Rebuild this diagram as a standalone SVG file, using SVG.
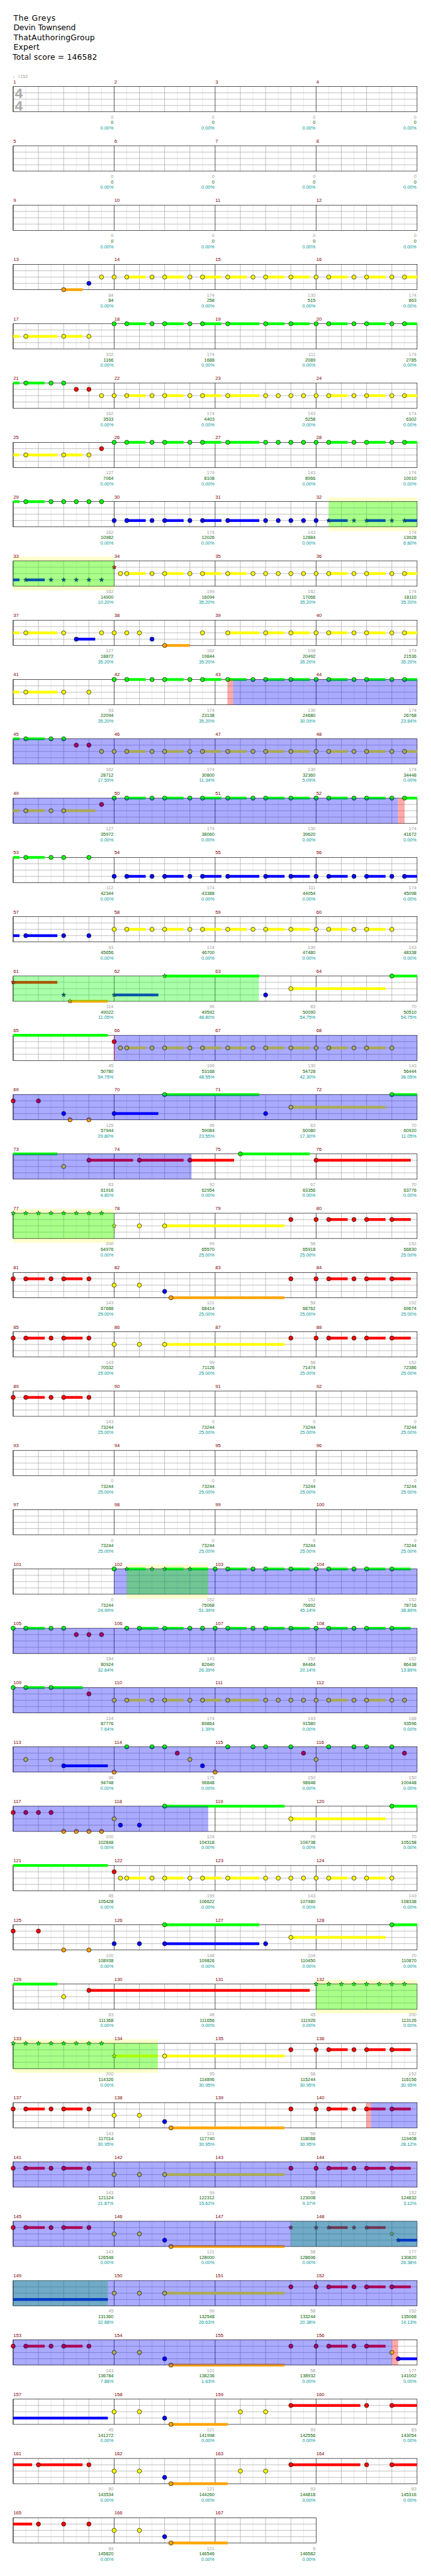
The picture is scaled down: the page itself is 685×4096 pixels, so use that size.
<svg xmlns="http://www.w3.org/2000/svg" xmlns:xlink="http://www.w3.org/1999/xlink" width="685" height="4096" viewBox="0 0 685 4096">
<style>
.G{fill:#00ff00}.R{fill:#ff0000}.Y{fill:#ffff00}.B{fill:#0000ff}.O{fill:#ffa500}
.n circle{stroke:#000;stroke-width:1}
.n use{stroke:#000;stroke-width:.8}
.ob{fill:#0000ff;fill-opacity:.333}.og{fill:#00ff00;fill-opacity:.333}.or{fill:#ff0000;fill-opacity:.333}.yb{fill:#ffffcc}
.t{font-family:"DejaVu Sans",Verdana,sans-serif;font-size:18.5px;fill:#000}
.mn text{font-family:"Liberation Sans",Arial,sans-serif;font-size:11.5px;fill:#800000}
.sc text{font-family:"Liberation Sans",Arial,sans-serif;font-size:11px;text-anchor:end}
.s1{fill:#a0a0a0}.s2{fill:#006400}.s3{fill:#009999}
.lt{stroke:#dcdcdc;stroke-width:1;fill:none}.md{stroke:#a0a0a0;stroke-width:1;fill:none}.bk{stroke:#000;stroke-width:1;fill:none}
</style>
<defs>
<polygon id="st" points="0,-5.5 1.34,-1.85 5.23,-1.7 2.17,0.71 3.23,4.45 0,2.28 -3.23,4.45 -2.17,0.71 -5.23,-1.7 -1.34,-1.85"/>
<g id="m1"><path class="lt" d="M30 0V60M90 0V60M150 0V60M210 0V60"/><path class="md" d="M0 15H240M0 30H240M0 45H240M60 0V60M120 0V60M180 0V60"/><path class="bk" d="M0 0V60"/></g>
<g id="g4"><use href="#m1"/><use href="#m1" x="240"/><use href="#m1" x="480"/><use href="#m1" x="720"/><rect class="bk" width="960" height="60"/></g>
<g id="g3"><use href="#m1"/><use href="#m1" x="240"/><use href="#m1" x="480"/><rect class="bk" width="720" height="60"/></g>
</defs>
<rect width="685" height="4096" fill="#fff"/>
<g transform="scale(0.6687)">
<g id="header">
<text class="t" x="32" y="49.5" textLength="100">The Greys</text>
<text class="t" x="32" y="72" textLength="148">Devin Townsend</text>
<text class="t" x="32.3" y="95" textLength="193">ThatAuthoringGroup</text>
<text class="t" x="32" y="118.5" textLength="62">Expert</text>
<text class="t" x="30" y="141.5" textLength="201">Total score = 146582</text>
<text x="30.5" y="186" font-family="Liberation Sans, DejaVu Sans, sans-serif" font-size="11" fill="#a0a0a0">♩=152</text>
</g>

<g id="row1" transform="translate(31.3 205.8)"><use href="#g4"/>
<text x="4" y="27.5" font-family="Liberation Sans, Arial, sans-serif" font-weight="bold" font-size="34" fill="#aaaaaa">4</text>
<text x="4" y="57.5" font-family="Liberation Sans, Arial, sans-serif" font-weight="bold" font-size="34" fill="#aaaaaa">4</text>
<g class="mn"><text x="0.5" y="-7.5">1</text><text x="240.5" y="-7.5">2</text><text x="480.5" y="-7.5">3</text><text x="720.5" y="-7.5">4</text></g>
<g class="sc"><text x="238.5" y="76.5"><tspan class="s1">0</tspan><tspan x="238.5" dy="13" class="s2">0</tspan><tspan x="238.5" dy="13" class="s3">0.00%</tspan></text><text x="478.5" y="76.5"><tspan class="s1">0</tspan><tspan x="478.5" dy="13" class="s2">0</tspan><tspan x="478.5" dy="13" class="s3">0.00%</tspan></text><text x="718.5" y="76.5"><tspan class="s1">0</tspan><tspan x="718.5" dy="13" class="s2">0</tspan><tspan x="718.5" dy="13" class="s3">0.00%</tspan></text><text x="958.5" y="76.5"><tspan class="s1">0</tspan><tspan x="958.5" dy="13" class="s2">0</tspan><tspan x="958.5" dy="13" class="s3">0.00%</tspan></text></g>
</g>

<g id="row2" transform="translate(31.3 346.8)"><use href="#g4"/>
<g class="mn"><text x="0.5" y="-7.5">5</text><text x="240.5" y="-7.5">6</text><text x="480.5" y="-7.5">7</text><text x="720.5" y="-7.5">8</text></g>
<g class="sc"><text x="238.5" y="76.5"><tspan class="s1">0</tspan><tspan x="238.5" dy="13" class="s2">0</tspan><tspan x="238.5" dy="13" class="s3">0.00%</tspan></text><text x="478.5" y="76.5"><tspan class="s1">0</tspan><tspan x="478.5" dy="13" class="s2">0</tspan><tspan x="478.5" dy="13" class="s3">0.00%</tspan></text><text x="718.5" y="76.5"><tspan class="s1">0</tspan><tspan x="718.5" dy="13" class="s2">0</tspan><tspan x="718.5" dy="13" class="s3">0.00%</tspan></text><text x="958.5" y="76.5"><tspan class="s1">0</tspan><tspan x="958.5" dy="13" class="s2">0</tspan><tspan x="958.5" dy="13" class="s3">0.00%</tspan></text></g>
</g>

<g id="row3" transform="translate(31.3 487.8)"><use href="#g4"/>
<g class="mn"><text x="0.5" y="-7.5">9</text><text x="240.5" y="-7.5">10</text><text x="480.5" y="-7.5">11</text><text x="720.5" y="-7.5">12</text></g>
<g class="sc"><text x="238.5" y="76.5"><tspan class="s1">0</tspan><tspan x="238.5" dy="13" class="s2">0</tspan><tspan x="238.5" dy="13" class="s3">0.00%</tspan></text><text x="478.5" y="76.5"><tspan class="s1">0</tspan><tspan x="478.5" dy="13" class="s2">0</tspan><tspan x="478.5" dy="13" class="s3">0.00%</tspan></text><text x="718.5" y="76.5"><tspan class="s1">0</tspan><tspan x="718.5" dy="13" class="s2">0</tspan><tspan x="718.5" dy="13" class="s3">0.00%</tspan></text><text x="958.5" y="76.5"><tspan class="s1">0</tspan><tspan x="958.5" dy="13" class="s2">0</tspan><tspan x="958.5" dy="13" class="s3">0.00%</tspan></text></g>
</g>

<g id="row4" transform="translate(31.3 628.8)"><use href="#g4"/>
<g class="O"><rect x="120" y="56.75" width="45" height="6.5"/></g>
<g class="Y"><rect x="270" y="26.75" width="45" height="6.5"/><rect x="360" y="26.75" width="45" height="6.5"/><rect x="450" y="26.75" width="45" height="6.5"/><rect x="510" y="26.75" width="45" height="6.5"/><rect x="600" y="26.75" width="45" height="6.5"/><rect x="660" y="26.75" width="45" height="6.5"/><rect x="750" y="26.75" width="45" height="6.5"/><rect x="840" y="26.75" width="45" height="6.5"/><rect x="930" y="26.75" width="30" height="6.5"/></g>
<g class="n O"><circle cx="120" cy="60" r="5"/></g>
<g class="n B"><circle cx="180" cy="45" r="5"/></g>
<g class="n Y"><circle cx="210" cy="30" r="5"/><circle cx="240" cy="30" r="5"/><circle cx="270" cy="30" r="5"/><circle cx="330" cy="30" r="5"/><circle cx="360" cy="30" r="5"/><circle cx="420" cy="30" r="5"/><circle cx="450" cy="30" r="5"/><circle cx="510" cy="30" r="5"/><circle cx="570" cy="30" r="5"/><circle cx="600" cy="30" r="5"/><circle cx="660" cy="30" r="5"/><circle cx="720" cy="30" r="5"/><circle cx="750" cy="30" r="5"/><circle cx="810" cy="30" r="5"/><circle cx="840" cy="30" r="5"/><circle cx="900" cy="30" r="5"/><circle cx="930" cy="30" r="5"/></g>
<g class="mn"><text x="0.5" y="-7.5">13</text><text x="240.5" y="-7.5">14</text><text x="480.5" y="-7.5">15</text><text x="720.5" y="-7.5">16</text></g>
<g class="sc"><text x="238.5" y="76.5"><tspan class="s1">84</tspan><tspan x="238.5" dy="13" class="s2">84</tspan><tspan x="238.5" dy="13" class="s3">0.00%</tspan></text><text x="478.5" y="76.5"><tspan class="s1">174</tspan><tspan x="478.5" dy="13" class="s2">258</tspan><tspan x="478.5" dy="13" class="s3">0.00%</tspan></text><text x="718.5" y="76.5"><tspan class="s1">130</tspan><tspan x="718.5" dy="13" class="s2">515</tspan><tspan x="718.5" dy="13" class="s3">0.00%</tspan></text><text x="958.5" y="76.5"><tspan class="s1">174</tspan><tspan x="958.5" dy="13" class="s2">863</tspan><tspan x="958.5" dy="13" class="s3">0.00%</tspan></text></g>
</g>

<g id="row5" transform="translate(31.3 769.8)"><use href="#g4"/>
<g class="Y"><rect x="0" y="26.75" width="15" height="6.5"/><rect x="30" y="26.75" width="75" height="6.5"/><rect x="120" y="26.75" width="45" height="6.5"/></g>
<g class="G"><rect x="270" y="-3.25" width="45" height="6.5"/><rect x="360" y="-3.25" width="45" height="6.5"/><rect x="450" y="-3.25" width="45" height="6.5"/><rect x="510" y="-3.25" width="75" height="6.5"/><rect x="600" y="-3.25" width="45" height="6.5"/><rect x="660" y="-3.25" width="45" height="6.5"/><rect x="750" y="-3.25" width="45" height="6.5"/><rect x="840" y="-3.25" width="45" height="6.5"/><rect x="930" y="-3.25" width="30" height="6.5"/></g>
<g class="n Y"><circle cx="30" cy="30" r="5"/><circle cx="120" cy="30" r="5"/><circle cx="180" cy="30" r="5"/></g>
<g class="n G"><circle cx="240" cy="0" r="5"/><circle cx="270" cy="0" r="5"/><circle cx="330" cy="0" r="5"/><circle cx="360" cy="0" r="5"/><circle cx="420" cy="0" r="5"/><circle cx="450" cy="0" r="5"/><circle cx="510" cy="0" r="5"/><circle cx="600" cy="0" r="5"/><circle cx="660" cy="0" r="5"/><circle cx="720" cy="0" r="5"/><circle cx="750" cy="0" r="5"/><circle cx="810" cy="0" r="5"/><circle cx="840" cy="0" r="5"/><circle cx="900" cy="0" r="5"/><circle cx="930" cy="0" r="5"/></g>
<g class="mn"><text x="0.5" y="-7.5">17</text><text x="240.5" y="-7.5">18</text><text x="480.5" y="-7.5">19</text><text x="720.5" y="-7.5">20</text></g>
<g class="sc"><text x="238.5" y="76.5"><tspan class="s1">102</tspan><tspan x="238.5" dy="13" class="s2">1166</tspan><tspan x="238.5" dy="13" class="s3">0.00%</tspan></text><text x="478.5" y="76.5"><tspan class="s1">174</tspan><tspan x="478.5" dy="13" class="s2">1688</tspan><tspan x="478.5" dy="13" class="s3">0.00%</tspan></text><text x="718.5" y="76.5"><tspan class="s1">111</tspan><tspan x="718.5" dy="13" class="s2">2089</tspan><tspan x="718.5" dy="13" class="s3">0.00%</tspan></text><text x="958.5" y="76.5"><tspan class="s1">174</tspan><tspan x="958.5" dy="13" class="s2">2785</tspan><tspan x="958.5" dy="13" class="s3">0.00%</tspan></text></g>
</g>

<g id="row6" transform="translate(31.3 910.8)"><use href="#g4"/>
<g class="G"><rect x="0" y="-3.25" width="15" height="6.5"/><rect x="30" y="-3.25" width="45" height="6.5"/></g>
<g class="Y"><rect x="270" y="26.75" width="45" height="6.5"/><rect x="360" y="26.75" width="45" height="6.5"/><rect x="450" y="26.75" width="45" height="6.5"/><rect x="510" y="26.75" width="75" height="6.5"/><rect x="750" y="26.75" width="45" height="6.5"/><rect x="840" y="26.75" width="45" height="6.5"/><rect x="930" y="26.75" width="30" height="6.5"/></g>
<g class="n G"><circle cx="30" cy="0" r="5"/><circle cx="90" cy="0" r="5"/><circle cx="120" cy="0" r="5"/></g>
<g class="n R"><circle cx="150" cy="15" r="5"/><circle cx="180" cy="15" r="5"/></g>
<g class="n Y"><circle cx="210" cy="30" r="5"/><circle cx="240" cy="30" r="5"/><circle cx="270" cy="30" r="5"/><circle cx="330" cy="30" r="5"/><circle cx="360" cy="30" r="5"/><circle cx="420" cy="30" r="5"/><circle cx="450" cy="30" r="5"/><circle cx="510" cy="30" r="5"/><circle cx="600" cy="30" r="5"/><circle cx="630" cy="30" r="5"/><circle cx="660" cy="30" r="5"/><circle cx="690" cy="30" r="5"/><circle cx="720" cy="30" r="5"/><circle cx="750" cy="30" r="5"/><circle cx="810" cy="30" r="5"/><circle cx="840" cy="30" r="5"/><circle cx="900" cy="30" r="5"/><circle cx="930" cy="30" r="5"/></g>
<g class="mn"><text x="0.5" y="-7.5">21</text><text x="240.5" y="-7.5">22</text><text x="480.5" y="-7.5">23</text><text x="720.5" y="-7.5">24</text></g>
<g class="sc"><text x="238.5" y="76.5"><tspan class="s1">162</tspan><tspan x="238.5" dy="13" class="s2">3533</tspan><tspan x="238.5" dy="13" class="s3">0.00%</tspan></text><text x="478.5" y="76.5"><tspan class="s1">174</tspan><tspan x="478.5" dy="13" class="s2">4403</tspan><tspan x="478.5" dy="13" class="s3">0.00%</tspan></text><text x="718.5" y="76.5"><tspan class="s1">143</tspan><tspan x="718.5" dy="13" class="s2">5258</tspan><tspan x="718.5" dy="13" class="s3">0.00%</tspan></text><text x="958.5" y="76.5"><tspan class="s1">174</tspan><tspan x="958.5" dy="13" class="s2">6302</tspan><tspan x="958.5" dy="13" class="s3">0.00%</tspan></text></g>
</g>

<g id="row7" transform="translate(31.3 1051.8)"><use href="#g4"/>
<g class="Y"><rect x="0" y="26.75" width="15" height="6.5"/><rect x="30" y="26.75" width="75" height="6.5"/><rect x="120" y="26.75" width="45" height="6.5"/></g>
<g class="G"><rect x="270" y="-3.25" width="45" height="6.5"/><rect x="360" y="-3.25" width="45" height="6.5"/><rect x="450" y="-3.25" width="45" height="6.5"/><rect x="510" y="-3.25" width="75" height="6.5"/><rect x="750" y="-3.25" width="45" height="6.5"/><rect x="840" y="-3.25" width="45" height="6.5"/><rect x="930" y="-3.25" width="30" height="6.5"/></g>
<g class="n Y"><circle cx="30" cy="30" r="5"/><circle cx="120" cy="30" r="5"/><circle cx="180" cy="30" r="5"/></g>
<g class="n R"><circle cx="210" cy="15" r="5"/></g>
<g class="n G"><circle cx="240" cy="0" r="5"/><circle cx="270" cy="0" r="5"/><circle cx="330" cy="0" r="5"/><circle cx="360" cy="0" r="5"/><circle cx="420" cy="0" r="5"/><circle cx="450" cy="0" r="5"/><circle cx="510" cy="0" r="5"/><circle cx="600" cy="0" r="5"/><circle cx="630" cy="0" r="5"/><circle cx="660" cy="0" r="5"/><circle cx="690" cy="0" r="5"/><circle cx="720" cy="0" r="5"/><circle cx="750" cy="0" r="5"/><circle cx="810" cy="0" r="5"/><circle cx="840" cy="0" r="5"/><circle cx="900" cy="0" r="5"/><circle cx="930" cy="0" r="5"/></g>
<g class="mn"><text x="0.5" y="-7.5">25</text><text x="240.5" y="-7.5">26</text><text x="480.5" y="-7.5">27</text><text x="720.5" y="-7.5">28</text></g>
<g class="sc"><text x="238.5" y="76.5"><tspan class="s1">127</tspan><tspan x="238.5" dy="13" class="s2">7064</tspan><tspan x="238.5" dy="13" class="s3">0.00%</tspan></text><text x="478.5" y="76.5"><tspan class="s1">174</tspan><tspan x="478.5" dy="13" class="s2">8108</tspan><tspan x="478.5" dy="13" class="s3">0.00%</tspan></text><text x="718.5" y="76.5"><tspan class="s1">143</tspan><tspan x="718.5" dy="13" class="s2">8966</tspan><tspan x="718.5" dy="13" class="s3">0.00%</tspan></text><text x="958.5" y="76.5"><tspan class="s1">174</tspan><tspan x="958.5" dy="13" class="s2">10010</tspan><tspan x="958.5" dy="13" class="s3">0.00%</tspan></text></g>
</g>

<g id="row8" transform="translate(31.3 1192.8)"><rect class="yb" x="750" y="-10" width="210" height="80"/><use href="#g4"/>
<g class="G"><rect x="0" y="-3.25" width="15" height="6.5"/><rect x="30" y="-3.25" width="45" height="6.5"/></g>
<g class="B"><rect x="270" y="41.75" width="45" height="6.5"/><rect x="360" y="41.75" width="45" height="6.5"/><rect x="450" y="41.75" width="45" height="6.5"/><rect x="510" y="41.75" width="75" height="6.5"/><rect x="750" y="41.75" width="45" height="6.5"/><rect x="840" y="41.75" width="45" height="6.5"/><rect x="930" y="41.75" width="30" height="6.5"/></g>
<g class="n G"><circle cx="30" cy="0" r="5"/><circle cx="90" cy="0" r="5"/><circle cx="120" cy="0" r="5"/><circle cx="150" cy="0" r="5"/><circle cx="180" cy="0" r="5"/><circle cx="210" cy="0" r="5"/></g>
<g class="n B"><circle cx="240" cy="45" r="5"/><circle cx="270" cy="45" r="5"/><circle cx="330" cy="45" r="5"/><circle cx="360" cy="45" r="5"/><circle cx="420" cy="45" r="5"/><circle cx="450" cy="45" r="5"/><circle cx="510" cy="45" r="5"/><circle cx="600" cy="45" r="5"/><circle cx="630" cy="45" r="5"/><circle cx="660" cy="45" r="5"/><circle cx="690" cy="45" r="5"/><circle cx="720" cy="45" r="5"/><use href="#st" x="750" y="45"/><use href="#st" x="810" y="45"/><use href="#st" x="840" y="45"/><use href="#st" x="900" y="45"/><use href="#st" x="930" y="45"/></g>
<rect class="og" x="750" y="0" width="210" height="60"/>
<g class="mn"><text x="0.5" y="-7.5">29</text><text x="240.5" y="-7.5">30</text><text x="480.5" y="-7.5">31</text><text x="720.5" y="-7.5">32</text></g>
<g class="sc"><text x="238.5" y="76.5"><tspan class="s1">162</tspan><tspan x="238.5" dy="13" class="s2">10982</tspan><tspan x="238.5" dy="13" class="s3">0.00%</tspan></text><text x="478.5" y="76.5"><tspan class="s1">174</tspan><tspan x="478.5" dy="13" class="s2">12026</tspan><tspan x="478.5" dy="13" class="s3">0.00%</tspan></text><text x="718.5" y="76.5"><tspan class="s1">143</tspan><tspan x="718.5" dy="13" class="s2">12884</tspan><tspan x="718.5" dy="13" class="s3">0.00%</tspan></text><text x="958.5" y="76.5"><tspan class="s1">174</tspan><tspan x="958.5" dy="13" class="s2">13928</tspan><tspan x="958.5" dy="13" class="s3">6.80%</tspan></text></g>
</g>

<g id="row9" transform="translate(31.3 1333.8)"><rect class="yb" x="0" y="-10" width="240" height="80"/><use href="#g4"/>
<g class="B"><rect x="0" y="41.75" width="15" height="6.5"/><rect x="30" y="41.75" width="45" height="6.5"/></g>
<g class="Y"><rect x="270" y="26.75" width="45" height="6.5"/><rect x="360" y="26.75" width="45" height="6.5"/><rect x="450" y="26.75" width="45" height="6.5"/><rect x="510" y="26.75" width="45" height="6.5"/><rect x="750" y="26.75" width="45" height="6.5"/><rect x="840" y="26.75" width="45" height="6.5"/><rect x="930" y="26.75" width="30" height="6.5"/></g>
<g class="n B"><use href="#st" x="30" y="45"/><use href="#st" x="90" y="45"/><use href="#st" x="120" y="45"/><use href="#st" x="150" y="45"/><use href="#st" x="180" y="45"/><use href="#st" x="210" y="45"/></g>
<g class="n R"><use href="#st" x="240" y="15"/></g>
<g class="n Y"><circle cx="255" cy="30" r="5"/><circle cx="270" cy="30" r="5"/><circle cx="330" cy="30" r="5"/><circle cx="360" cy="30" r="5"/><circle cx="420" cy="30" r="5"/><circle cx="450" cy="30" r="5"/><circle cx="510" cy="30" r="5"/><circle cx="570" cy="30" r="5"/><circle cx="600" cy="30" r="5"/><circle cx="630" cy="30" r="5"/><circle cx="660" cy="30" r="5"/><circle cx="690" cy="30" r="5"/><circle cx="720" cy="30" r="5"/><circle cx="750" cy="30" r="5"/><circle cx="810" cy="30" r="5"/><circle cx="840" cy="30" r="5"/><circle cx="900" cy="30" r="5"/><circle cx="930" cy="30" r="5"/></g>
<rect class="og" x="0" y="0" width="240" height="60"/>
<g class="mn"><text x="0.5" y="-7.5">33</text><text x="240.5" y="-7.5">34</text><text x="480.5" y="-7.5">35</text><text x="720.5" y="-7.5">36</text></g>
<g class="sc"><text x="238.5" y="76.5"><tspan class="s1">162</tspan><tspan x="238.5" dy="13" class="s2">14900</tspan><tspan x="238.5" dy="13" class="s3">10.20%</tspan></text><text x="478.5" y="76.5"><tspan class="s1">199</tspan><tspan x="478.5" dy="13" class="s2">16094</tspan><tspan x="478.5" dy="13" class="s3">35.20%</tspan></text><text x="718.5" y="76.5"><tspan class="s1">162</tspan><tspan x="718.5" dy="13" class="s2">17066</tspan><tspan x="718.5" dy="13" class="s3">35.20%</tspan></text><text x="958.5" y="76.5"><tspan class="s1">174</tspan><tspan x="958.5" dy="13" class="s2">18110</tspan><tspan x="958.5" dy="13" class="s3">35.20%</tspan></text></g>
</g>

<g id="row10" transform="translate(31.3 1474.8)"><use href="#g4"/>
<g class="Y"><rect x="0" y="26.75" width="15" height="6.5"/><rect x="30" y="26.75" width="75" height="6.5"/><rect x="510" y="26.75" width="75" height="6.5"/><rect x="600" y="26.75" width="45" height="6.5"/><rect x="660" y="26.75" width="45" height="6.5"/><rect x="750" y="26.75" width="45" height="6.5"/><rect x="840" y="26.75" width="45" height="6.5"/><rect x="930" y="26.75" width="30" height="6.5"/></g>
<g class="B"><rect x="150" y="41.75" width="45" height="6.5"/></g>
<g class="O"><rect x="360" y="56.75" width="60" height="6.5"/></g>
<g class="n Y"><circle cx="30" cy="30" r="5"/><circle cx="120" cy="30" r="5"/><circle cx="210" cy="30" r="5"/><circle cx="240" cy="30" r="5"/><circle cx="270" cy="30" r="5"/><circle cx="300" cy="30" r="5"/><circle cx="450" cy="30" r="5"/><circle cx="510" cy="30" r="5"/><circle cx="600" cy="30" r="5"/><circle cx="660" cy="30" r="5"/><circle cx="720" cy="30" r="5"/><circle cx="750" cy="30" r="5"/><circle cx="810" cy="30" r="5"/><circle cx="840" cy="30" r="5"/><circle cx="900" cy="30" r="5"/><circle cx="930" cy="30" r="5"/></g>
<g class="n B"><circle cx="150" cy="45" r="5"/><circle cx="330" cy="45" r="5"/></g>
<g class="n O"><circle cx="360" cy="60" r="5"/></g>
<g class="mn"><text x="0.5" y="-7.5">37</text><text x="240.5" y="-7.5">38</text><text x="480.5" y="-7.5">39</text><text x="720.5" y="-7.5">40</text></g>
<g class="sc"><text x="238.5" y="76.5"><tspan class="s1">127</tspan><tspan x="238.5" dy="13" class="s2">18872</tspan><tspan x="238.5" dy="13" class="s3">35.20%</tspan></text><text x="478.5" y="76.5"><tspan class="s1">162</tspan><tspan x="478.5" dy="13" class="s2">19844</tspan><tspan x="478.5" dy="13" class="s3">35.20%</tspan></text><text x="718.5" y="76.5"><tspan class="s1">108</tspan><tspan x="718.5" dy="13" class="s2">20492</tspan><tspan x="718.5" dy="13" class="s3">35.20%</tspan></text><text x="958.5" y="76.5"><tspan class="s1">174</tspan><tspan x="958.5" dy="13" class="s2">21536</tspan><tspan x="958.5" dy="13" class="s3">35.20%</tspan></text></g>
</g>

<g id="row11" transform="translate(31.3 1615.8)"><use href="#g4"/>
<g class="Y"><rect x="0" y="26.75" width="15" height="6.5"/><rect x="30" y="26.75" width="75" height="6.5"/></g>
<g class="G"><rect x="270" y="-3.25" width="45" height="6.5"/><rect x="360" y="-3.25" width="45" height="6.5"/><rect x="450" y="-3.25" width="45" height="6.5"/><rect x="510" y="-3.25" width="45" height="6.5"/><rect x="600" y="-3.25" width="45" height="6.5"/><rect x="660" y="-3.25" width="45" height="6.5"/><rect x="750" y="-3.25" width="45" height="6.5"/><rect x="840" y="-3.25" width="45" height="6.5"/><rect x="930" y="-3.25" width="30" height="6.5"/></g>
<g class="n Y"><circle cx="30" cy="30" r="5"/><circle cx="120" cy="30" r="5"/><circle cx="180" cy="30" r="5"/></g>
<g class="n G"><circle cx="240" cy="0" r="5"/><circle cx="270" cy="0" r="5"/><circle cx="330" cy="0" r="5"/><circle cx="360" cy="0" r="5"/><circle cx="420" cy="0" r="5"/><circle cx="450" cy="0" r="5"/><circle cx="510" cy="0" r="5"/><circle cx="570" cy="0" r="5"/><circle cx="600" cy="0" r="5"/><circle cx="660" cy="0" r="5"/><circle cx="720" cy="0" r="5"/><circle cx="750" cy="0" r="5"/><circle cx="810" cy="0" r="5"/><circle cx="840" cy="0" r="5"/><circle cx="900" cy="0" r="5"/><circle cx="930" cy="0" r="5"/></g>
<rect class="or" x="509.5" y="0" width="13" height="60"/><rect class="ob" x="522.5" y="0" width="437.5" height="60"/>
<g class="mn"><text x="0.5" y="-7.5">41</text><text x="240.5" y="-7.5">42</text><text x="480.5" y="-7.5">43</text><text x="720.5" y="-7.5">44</text></g>
<g class="sc"><text x="238.5" y="76.5"><tspan class="s1">93</tspan><tspan x="238.5" dy="13" class="s2">22094</tspan><tspan x="238.5" dy="13" class="s3">35.20%</tspan></text><text x="478.5" y="76.5"><tspan class="s1">174</tspan><tspan x="478.5" dy="13" class="s2">23138</tspan><tspan x="478.5" dy="13" class="s3">35.20%</tspan></text><text x="718.5" y="76.5"><tspan class="s1">130</tspan><tspan x="718.5" dy="13" class="s2">24680</tspan><tspan x="718.5" dy="13" class="s3">30.09%</tspan></text><text x="958.5" y="76.5"><tspan class="s1">174</tspan><tspan x="958.5" dy="13" class="s2">26768</tspan><tspan x="958.5" dy="13" class="s3">23.84%</tspan></text></g>
</g>

<g id="row12" transform="translate(31.3 1756.8)"><use href="#g4"/>
<g class="G"><rect x="0" y="-3.25" width="15" height="6.5"/><rect x="30" y="-3.25" width="45" height="6.5"/></g>
<g class="Y"><rect x="270" y="26.75" width="45" height="6.5"/><rect x="360" y="26.75" width="45" height="6.5"/><rect x="450" y="26.75" width="45" height="6.5"/><rect x="510" y="26.75" width="45" height="6.5"/><rect x="600" y="26.75" width="45" height="6.5"/><rect x="660" y="26.75" width="45" height="6.5"/><rect x="750" y="26.75" width="45" height="6.5"/><rect x="840" y="26.75" width="45" height="6.5"/><rect x="930" y="26.75" width="30" height="6.5"/></g>
<g class="n G"><circle cx="30" cy="0" r="5"/><circle cx="90" cy="0" r="5"/><circle cx="120" cy="0" r="5"/></g>
<g class="n R"><circle cx="150" cy="15" r="5"/><circle cx="180" cy="15" r="5"/></g>
<g class="n Y"><circle cx="210" cy="30" r="5"/><circle cx="240" cy="30" r="5"/><circle cx="270" cy="30" r="5"/><circle cx="330" cy="30" r="5"/><circle cx="360" cy="30" r="5"/><circle cx="420" cy="30" r="5"/><circle cx="450" cy="30" r="5"/><circle cx="510" cy="30" r="5"/><circle cx="570" cy="30" r="5"/><circle cx="600" cy="30" r="5"/><circle cx="660" cy="30" r="5"/><circle cx="720" cy="30" r="5"/><circle cx="750" cy="30" r="5"/><circle cx="810" cy="30" r="5"/><circle cx="840" cy="30" r="5"/><circle cx="900" cy="30" r="5"/><circle cx="930" cy="30" r="5"/></g>
<rect class="ob" x="0" y="0" width="960" height="60"/>
<g class="mn"><text x="0.5" y="-7.5">45</text><text x="240.5" y="-7.5">46</text><text x="480.5" y="-7.5">47</text><text x="720.5" y="-7.5">48</text></g>
<g class="sc"><text x="238.5" y="76.5"><tspan class="s1">162</tspan><tspan x="238.5" dy="13" class="s2">28712</tspan><tspan x="238.5" dy="13" class="s3">17.59%</tspan></text><text x="478.5" y="76.5"><tspan class="s1">174</tspan><tspan x="478.5" dy="13" class="s2">30800</tspan><tspan x="478.5" dy="13" class="s3">11.34%</tspan></text><text x="718.5" y="76.5"><tspan class="s1">130</tspan><tspan x="718.5" dy="13" class="s2">32360</tspan><tspan x="718.5" dy="13" class="s3">5.09%</tspan></text><text x="958.5" y="76.5"><tspan class="s1">174</tspan><tspan x="958.5" dy="13" class="s2">34448</tspan><tspan x="958.5" dy="13" class="s3">0.00%</tspan></text></g>
</g>

<g id="row13" transform="translate(31.3 1897.8)"><use href="#g4"/>
<g class="Y"><rect x="0" y="26.75" width="15" height="6.5"/><rect x="30" y="26.75" width="45" height="6.5"/><rect x="120" y="26.75" width="75" height="6.5"/></g>
<g class="G"><rect x="270" y="-3.25" width="45" height="6.5"/><rect x="360" y="-3.25" width="45" height="6.5"/><rect x="450" y="-3.25" width="45" height="6.5"/><rect x="510" y="-3.25" width="45" height="6.5"/><rect x="600" y="-3.25" width="45" height="6.5"/><rect x="660" y="-3.25" width="45" height="6.5"/><rect x="750" y="-3.25" width="45" height="6.5"/><rect x="840" y="-3.25" width="45" height="6.5"/><rect x="930" y="-3.25" width="30" height="6.5"/></g>
<g class="n Y"><circle cx="30" cy="30" r="5"/><circle cx="90" cy="30" r="5"/><circle cx="120" cy="30" r="5"/></g>
<g class="n R"><circle cx="210" cy="15" r="5"/></g>
<g class="n G"><circle cx="240" cy="0" r="5"/><circle cx="270" cy="0" r="5"/><circle cx="330" cy="0" r="5"/><circle cx="360" cy="0" r="5"/><circle cx="420" cy="0" r="5"/><circle cx="450" cy="0" r="5"/><circle cx="510" cy="0" r="5"/><circle cx="570" cy="0" r="5"/><circle cx="600" cy="0" r="5"/><circle cx="660" cy="0" r="5"/><circle cx="720" cy="0" r="5"/><circle cx="750" cy="0" r="5"/><circle cx="810" cy="0" r="5"/><circle cx="840" cy="0" r="5"/><circle cx="900" cy="0" r="5"/><circle cx="930" cy="0" r="5"/></g>
<rect class="ob" x="0" y="0" width="914.5" height="60"/><rect class="or" x="914.5" y="0" width="15.5" height="60"/>
<g class="mn"><text x="0.5" y="-7.5">49</text><text x="240.5" y="-7.5">50</text><text x="480.5" y="-7.5">51</text><text x="720.5" y="-7.5">52</text></g>
<g class="sc"><text x="238.5" y="76.5"><tspan class="s1">127</tspan><tspan x="238.5" dy="13" class="s2">35972</tspan><tspan x="238.5" dy="13" class="s3">0.00%</tspan></text><text x="478.5" y="76.5"><tspan class="s1">174</tspan><tspan x="478.5" dy="13" class="s2">38060</tspan><tspan x="478.5" dy="13" class="s3">0.00%</tspan></text><text x="718.5" y="76.5"><tspan class="s1">130</tspan><tspan x="718.5" dy="13" class="s2">39620</tspan><tspan x="718.5" dy="13" class="s3">0.00%</tspan></text><text x="958.5" y="76.5"><tspan class="s1">174</tspan><tspan x="958.5" dy="13" class="s2">41672</tspan><tspan x="958.5" dy="13" class="s3">0.00%</tspan></text></g>
</g>

<g id="row14" transform="translate(31.3 2038.8)"><use href="#g4"/>
<g class="G"><rect x="0" y="-3.25" width="15" height="6.5"/><rect x="30" y="-3.25" width="45" height="6.5"/></g>
<g class="B"><rect x="270" y="41.75" width="45" height="6.5"/><rect x="360" y="41.75" width="45" height="6.5"/><rect x="450" y="41.75" width="45" height="6.5"/><rect x="510" y="41.75" width="75" height="6.5"/><rect x="600" y="41.75" width="45" height="6.5"/><rect x="660" y="41.75" width="45" height="6.5"/><rect x="750" y="41.75" width="45" height="6.5"/><rect x="840" y="41.75" width="45" height="6.5"/><rect x="930" y="41.75" width="30" height="6.5"/></g>
<g class="n G"><circle cx="30" cy="0" r="5"/><circle cx="90" cy="0" r="5"/><circle cx="120" cy="0" r="5"/><circle cx="180" cy="0" r="5"/></g>
<g class="n B"><circle cx="240" cy="45" r="5"/><circle cx="270" cy="45" r="5"/><circle cx="330" cy="45" r="5"/><circle cx="360" cy="45" r="5"/><circle cx="420" cy="45" r="5"/><circle cx="450" cy="45" r="5"/><circle cx="510" cy="45" r="5"/><circle cx="600" cy="45" r="5"/><circle cx="660" cy="45" r="5"/><circle cx="720" cy="45" r="5"/><circle cx="750" cy="45" r="5"/><circle cx="810" cy="45" r="5"/><circle cx="840" cy="45" r="5"/><circle cx="900" cy="45" r="5"/><circle cx="930" cy="45" r="5"/></g>
<g class="mn"><text x="0.5" y="-7.5">53</text><text x="240.5" y="-7.5">54</text><text x="480.5" y="-7.5">55</text><text x="720.5" y="-7.5">56</text></g>
<g class="sc"><text x="238.5" y="76.5"><tspan class="s1">112</tspan><tspan x="238.5" dy="13" class="s2">42344</tspan><tspan x="238.5" dy="13" class="s3">0.00%</tspan></text><text x="478.5" y="76.5"><tspan class="s1">174</tspan><tspan x="478.5" dy="13" class="s2">43388</tspan><tspan x="478.5" dy="13" class="s3">0.00%</tspan></text><text x="718.5" y="76.5"><tspan class="s1">111</tspan><tspan x="718.5" dy="13" class="s2">44054</tspan><tspan x="718.5" dy="13" class="s3">0.00%</tspan></text><text x="958.5" y="76.5"><tspan class="s1">174</tspan><tspan x="958.5" dy="13" class="s2">45098</tspan><tspan x="958.5" dy="13" class="s3">0.00%</tspan></text></g>
</g>

<g id="row15" transform="translate(31.3 2179.8)"><use href="#g4"/>
<g class="B"><rect x="0" y="41.75" width="15" height="6.5"/><rect x="30" y="41.75" width="75" height="6.5"/></g>
<g class="Y"><rect x="270" y="26.75" width="45" height="6.5"/><rect x="360" y="26.75" width="45" height="6.5"/><rect x="450" y="26.75" width="45" height="6.5"/><rect x="510" y="26.75" width="45" height="6.5"/><rect x="600" y="26.75" width="45" height="6.5"/><rect x="660" y="26.75" width="45" height="6.5"/><rect x="750" y="26.75" width="45" height="6.5"/><rect x="840" y="26.75" width="45" height="6.5"/></g>
<g class="n B"><circle cx="30" cy="45" r="5"/><circle cx="120" cy="45" r="5"/><circle cx="180" cy="45" r="5"/></g>
<g class="n Y"><circle cx="240" cy="30" r="5"/><circle cx="270" cy="30" r="5"/><circle cx="330" cy="30" r="5"/><circle cx="360" cy="30" r="5"/><circle cx="420" cy="30" r="5"/><circle cx="450" cy="30" r="5"/><circle cx="510" cy="30" r="5"/><circle cx="570" cy="30" r="5"/><circle cx="600" cy="30" r="5"/><circle cx="660" cy="30" r="5"/><circle cx="720" cy="30" r="5"/><circle cx="750" cy="30" r="5"/><circle cx="810" cy="30" r="5"/><circle cx="840" cy="30" r="5"/><circle cx="900" cy="30" r="5"/></g>
<g class="mn"><text x="0.5" y="-7.5">57</text><text x="240.5" y="-7.5">58</text><text x="480.5" y="-7.5">59</text><text x="720.5" y="-7.5">60</text></g>
<g class="sc"><text x="238.5" y="76.5"><tspan class="s1">93</tspan><tspan x="238.5" dy="13" class="s2">45656</tspan><tspan x="238.5" dy="13" class="s3">0.00%</tspan></text><text x="478.5" y="76.5"><tspan class="s1">174</tspan><tspan x="478.5" dy="13" class="s2">46700</tspan><tspan x="478.5" dy="13" class="s3">0.00%</tspan></text><text x="718.5" y="76.5"><tspan class="s1">130</tspan><tspan x="718.5" dy="13" class="s2">47480</tspan><tspan x="718.5" dy="13" class="s3">0.00%</tspan></text><text x="958.5" y="76.5"><tspan class="s1">143</tspan><tspan x="958.5" dy="13" class="s2">48338</tspan><tspan x="958.5" dy="13" class="s3">0.00%</tspan></text></g>
</g>

<g id="row16" transform="translate(31.3 2320.8)"><use href="#g4"/>
<g class="R"><rect x="0" y="11.75" width="105" height="6.5"/></g>
<g class="O"><rect x="135" y="56.75" width="90" height="6.5"/></g>
<g class="B"><rect x="240" y="41.75" width="105" height="6.5"/></g>
<g class="G"><rect x="360" y="-3.25" width="225" height="6.5"/><rect x="900" y="-3.25" width="60" height="6.5"/></g>
<g class="Y"><rect x="660" y="26.75" width="225" height="6.5"/></g>
<g class="n R"><use href="#st" x="0" y="15"/></g>
<g class="n B"><use href="#st" x="120" y="45"/><use href="#st" x="240" y="45"/><circle cx="600" cy="45" r="5"/></g>
<g class="n O"><use href="#st" x="135" y="60"/></g>
<g class="n G"><use href="#st" x="360" y="0"/><circle cx="900" cy="0" r="5"/></g>
<g class="n Y"><circle cx="660" cy="30" r="5"/></g>
<rect class="og" x="0" y="0" width="584" height="60"/>
<g class="mn"><text x="0.5" y="-7.5">61</text><text x="240.5" y="-7.5">62</text><text x="480.5" y="-7.5">63</text><text x="720.5" y="-7.5">64</text></g>
<g class="sc"><text x="238.5" y="76.5"><tspan class="s1">114</tspan><tspan x="238.5" dy="13" class="s2">49022</tspan><tspan x="238.5" dy="13" class="s3">11.05%</tspan></text><text x="478.5" y="76.5"><tspan class="s1">95</tspan><tspan x="478.5" dy="13" class="s2">49592</tspan><tspan x="478.5" dy="13" class="s3">48.80%</tspan></text><text x="718.5" y="76.5"><tspan class="s1">83</tspan><tspan x="718.5" dy="13" class="s2">50090</tspan><tspan x="718.5" dy="13" class="s3">54.75%</tspan></text><text x="958.5" y="76.5"><tspan class="s1">70</tspan><tspan x="958.5" dy="13" class="s2">50510</tspan><tspan x="958.5" dy="13" class="s3">54.75%</tspan></text></g>
</g>

<g id="row17" transform="translate(31.3 2461.8)"><use href="#g4"/>
<g class="G"><rect x="0" y="-3.25" width="225" height="6.5"/></g>
<g class="Y"><rect x="270" y="26.75" width="45" height="6.5"/><rect x="360" y="26.75" width="45" height="6.5"/><rect x="450" y="26.75" width="45" height="6.5"/><rect x="510" y="26.75" width="45" height="6.5"/><rect x="600" y="26.75" width="45" height="6.5"/><rect x="660" y="26.75" width="45" height="6.5"/><rect x="750" y="26.75" width="45" height="6.5"/><rect x="840" y="26.75" width="45" height="6.5"/></g>
<g class="n R"><circle cx="240" cy="15" r="5"/></g>
<g class="n Y"><circle cx="255" cy="30" r="5"/><circle cx="270" cy="30" r="5"/><circle cx="330" cy="30" r="5"/><circle cx="360" cy="30" r="5"/><circle cx="420" cy="30" r="5"/><circle cx="450" cy="30" r="5"/><circle cx="510" cy="30" r="5"/><circle cx="570" cy="30" r="5"/><circle cx="600" cy="30" r="5"/><circle cx="660" cy="30" r="5"/><circle cx="720" cy="30" r="5"/><circle cx="750" cy="30" r="5"/><circle cx="810" cy="30" r="5"/><circle cx="840" cy="30" r="5"/><circle cx="900" cy="30" r="5"/></g>
<rect x="239.5" y="0" width="1.2" height="60" fill="#ff0000"/><rect class="ob" x="240" y="0" width="720" height="60"/>
<g class="mn"><text x="0.5" y="-7.5">65</text><text x="240.5" y="-7.5">66</text><text x="480.5" y="-7.5">67</text><text x="720.5" y="-7.5">68</text></g>
<g class="sc"><text x="238.5" y="76.5"><tspan class="s1">45</tspan><tspan x="238.5" dy="13" class="s2">50780</tspan><tspan x="238.5" dy="13" class="s3">54.75%</tspan></text><text x="478.5" y="76.5"><tspan class="s1">199</tspan><tspan x="478.5" dy="13" class="s2">53168</tspan><tspan x="478.5" dy="13" class="s3">48.55%</tspan></text><text x="718.5" y="76.5"><tspan class="s1">130</tspan><tspan x="718.5" dy="13" class="s2">54728</tspan><tspan x="718.5" dy="13" class="s3">42.30%</tspan></text><text x="958.5" y="76.5"><tspan class="s1">143</tspan><tspan x="958.5" dy="13" class="s2">56444</tspan><tspan x="958.5" dy="13" class="s3">36.05%</tspan></text></g>
</g>

<g id="row18" transform="translate(31.3 2602.8)"><use href="#g4"/>
<g class="B"><rect x="240" y="41.75" width="105" height="6.5"/></g>
<g class="G"><rect x="360" y="-3.25" width="225" height="6.5"/><rect x="900" y="-3.25" width="60" height="6.5"/></g>
<g class="Y"><rect x="660" y="26.75" width="225" height="6.5"/></g>
<g class="n R"><circle cx="0" cy="15" r="5"/><circle cx="60" cy="15" r="5"/></g>
<g class="n B"><circle cx="120" cy="45" r="5"/><circle cx="240" cy="45" r="5"/><circle cx="600" cy="45" r="5"/></g>
<g class="n O"><circle cx="135" cy="60" r="5"/><circle cx="180" cy="60" r="5"/></g>
<g class="n G"><circle cx="360" cy="0" r="5"/><circle cx="900" cy="0" r="5"/></g>
<g class="n Y"><circle cx="660" cy="30" r="5"/></g>
<rect class="ob" x="0" y="0" width="960" height="60"/>
<g class="mn"><text x="0.5" y="-7.5">69</text><text x="240.5" y="-7.5">70</text><text x="480.5" y="-7.5">71</text><text x="720.5" y="-7.5">72</text></g>
<g class="sc"><text x="238.5" y="76.5"><tspan class="s1">125</tspan><tspan x="238.5" dy="13" class="s2">57944</tspan><tspan x="238.5" dy="13" class="s3">29.80%</tspan></text><text x="478.5" y="76.5"><tspan class="s1">95</tspan><tspan x="478.5" dy="13" class="s2">59084</tspan><tspan x="478.5" dy="13" class="s3">23.55%</tspan></text><text x="718.5" y="76.5"><tspan class="s1">83</tspan><tspan x="718.5" dy="13" class="s2">60080</tspan><tspan x="718.5" dy="13" class="s3">17.30%</tspan></text><text x="958.5" y="76.5"><tspan class="s1">70</tspan><tspan x="958.5" dy="13" class="s2">60920</tspan><tspan x="958.5" dy="13" class="s3">11.05%</tspan></text></g>
</g>

<g id="row19" transform="translate(31.3 2743.8)"><use href="#g4"/>
<g class="G"><rect x="0" y="-3.25" width="105" height="6.5"/><rect x="540" y="-3.25" width="165" height="6.5"/></g>
<g class="R"><rect x="180" y="11.75" width="105" height="6.5"/><rect x="300" y="11.75" width="105" height="6.5"/><rect x="420" y="11.75" width="105" height="6.5"/><rect x="720" y="11.75" width="225" height="6.5"/></g>
<g class="n Y"><circle cx="120" cy="30" r="5"/></g>
<g class="n R"><circle cx="180" cy="15" r="5"/><circle cx="300" cy="15" r="5"/><circle cx="420" cy="15" r="5"/><circle cx="720" cy="15" r="5"/></g>
<g class="n G"><circle cx="540" cy="0" r="5"/></g>
<rect class="ob" x="0" y="0" width="424" height="60"/>
<g class="mn"><text x="0.5" y="-7.5">73</text><text x="240.5" y="-7.5">74</text><text x="480.5" y="-7.5">75</text><text x="720.5" y="-7.5">76</text></g>
<g class="sc"><text x="238.5" y="76.5"><tspan class="s1">83</tspan><tspan x="238.5" dy="13" class="s2">61916</tspan><tspan x="238.5" dy="13" class="s3">4.80%</tspan></text><text x="478.5" y="76.5"><tspan class="s1">92</tspan><tspan x="478.5" dy="13" class="s2">62954</tspan><tspan x="478.5" dy="13" class="s3">0.00%</tspan></text><text x="718.5" y="76.5"><tspan class="s1">67</tspan><tspan x="718.5" dy="13" class="s2">63356</tspan><tspan x="718.5" dy="13" class="s3">0.00%</tspan></text><text x="958.5" y="76.5"><tspan class="s1">70</tspan><tspan x="958.5" dy="13" class="s2">63776</tspan><tspan x="958.5" dy="13" class="s3">0.00%</tspan></text></g>
</g>

<g id="row20" transform="translate(31.3 2884.8)"><rect class="yb" x="0" y="-10" width="240" height="80"/><use href="#g4"/>
<g class="Y"><rect x="360" y="26.75" width="285" height="6.5"/></g>
<g class="R"><rect x="750" y="11.75" width="45" height="6.5"/><rect x="840" y="11.75" width="45" height="6.5"/><rect x="900" y="11.75" width="45" height="6.5"/></g>
<g class="n G"><use href="#st" x="0" y="0"/><use href="#st" x="30" y="0"/><use href="#st" x="60" y="0"/><use href="#st" x="90" y="0"/><use href="#st" x="120" y="0"/><use href="#st" x="150" y="0"/><use href="#st" x="180" y="0"/><use href="#st" x="210" y="0"/></g>
<g class="n Y"><use href="#st" x="240" y="30"/><circle cx="300" cy="30" r="5"/><circle cx="360" cy="30" r="5"/></g>
<g class="n R"><circle cx="660" cy="15" r="5"/><circle cx="720" cy="15" r="5"/><circle cx="750" cy="15" r="5"/><circle cx="810" cy="15" r="5"/><circle cx="840" cy="15" r="5"/><circle cx="900" cy="15" r="5"/></g>
<rect class="og" x="0" y="0" width="240" height="60"/>
<g class="mn"><text x="0.5" y="-7.5">77</text><text x="240.5" y="-7.5">78</text><text x="480.5" y="-7.5">79</text><text x="720.5" y="-7.5">80</text></g>
<g class="sc"><text x="238.5" y="76.5"><tspan class="s1">200</tspan><tspan x="238.5" dy="13" class="s2">64976</tspan><tspan x="238.5" dy="13" class="s3">0.00%</tspan></text><text x="478.5" y="76.5"><tspan class="s1">99</tspan><tspan x="478.5" dy="13" class="s2">65570</tspan><tspan x="478.5" dy="13" class="s3">25.00%</tspan></text><text x="718.5" y="76.5"><tspan class="s1">58</tspan><tspan x="718.5" dy="13" class="s2">65918</tspan><tspan x="718.5" dy="13" class="s3">25.00%</tspan></text><text x="958.5" y="76.5"><tspan class="s1">152</tspan><tspan x="958.5" dy="13" class="s2">66830</tspan><tspan x="958.5" dy="13" class="s3">25.00%</tspan></text></g>
</g>

<g id="row21" transform="translate(31.3 3025.8)"><use href="#g4"/>
<g class="R"><rect x="30" y="11.75" width="45" height="6.5"/><rect x="120" y="11.75" width="45" height="6.5"/><rect x="750" y="11.75" width="45" height="6.5"/><rect x="840" y="11.75" width="45" height="6.5"/><rect x="900" y="11.75" width="45" height="6.5"/></g>
<g class="O"><rect x="375" y="56.75" width="270" height="6.5"/></g>
<g class="n R"><circle cx="0" cy="15" r="5"/><circle cx="30" cy="15" r="5"/><circle cx="90" cy="15" r="5"/><circle cx="120" cy="15" r="5"/><circle cx="180" cy="15" r="5"/><circle cx="660" cy="15" r="5"/><circle cx="720" cy="15" r="5"/><circle cx="750" cy="15" r="5"/><circle cx="810" cy="15" r="5"/><circle cx="840" cy="15" r="5"/><circle cx="900" cy="15" r="5"/></g>
<g class="n Y"><circle cx="240" cy="30" r="5"/><circle cx="300" cy="30" r="5"/></g>
<g class="n B"><circle cx="360" cy="45" r="5"/></g>
<g class="n O"><circle cx="375" cy="60" r="5"/></g>
<g class="mn"><text x="0.5" y="-7.5">81</text><text x="240.5" y="-7.5">82</text><text x="480.5" y="-7.5">83</text><text x="720.5" y="-7.5">84</text></g>
<g class="sc"><text x="238.5" y="76.5"><tspan class="s1">143</tspan><tspan x="238.5" dy="13" class="s2">67688</tspan><tspan x="238.5" dy="13" class="s3">25.00%</tspan></text><text x="478.5" y="76.5"><tspan class="s1">121</tspan><tspan x="478.5" dy="13" class="s2">68414</tspan><tspan x="478.5" dy="13" class="s3">25.00%</tspan></text><text x="718.5" y="76.5"><tspan class="s1">58</tspan><tspan x="718.5" dy="13" class="s2">68762</tspan><tspan x="718.5" dy="13" class="s3">25.00%</tspan></text><text x="958.5" y="76.5"><tspan class="s1">152</tspan><tspan x="958.5" dy="13" class="s2">69674</tspan><tspan x="958.5" dy="13" class="s3">25.00%</tspan></text></g>
</g>

<g id="row22" transform="translate(31.3 3166.8)"><use href="#g4"/>
<g class="R"><rect x="30" y="11.75" width="45" height="6.5"/><rect x="120" y="11.75" width="45" height="6.5"/><rect x="750" y="11.75" width="45" height="6.5"/><rect x="840" y="11.75" width="45" height="6.5"/><rect x="900" y="11.75" width="45" height="6.5"/></g>
<g class="Y"><rect x="360" y="26.75" width="285" height="6.5"/></g>
<g class="n R"><circle cx="0" cy="15" r="5"/><circle cx="30" cy="15" r="5"/><circle cx="90" cy="15" r="5"/><circle cx="120" cy="15" r="5"/><circle cx="180" cy="15" r="5"/><circle cx="660" cy="15" r="5"/><circle cx="720" cy="15" r="5"/><circle cx="750" cy="15" r="5"/><circle cx="810" cy="15" r="5"/><circle cx="840" cy="15" r="5"/><circle cx="900" cy="15" r="5"/></g>
<g class="n Y"><circle cx="240" cy="30" r="5"/><circle cx="300" cy="30" r="5"/><circle cx="360" cy="30" r="5"/></g>
<g class="mn"><text x="0.5" y="-7.5">85</text><text x="240.5" y="-7.5">86</text><text x="480.5" y="-7.5">87</text><text x="720.5" y="-7.5">88</text></g>
<g class="sc"><text x="238.5" y="76.5"><tspan class="s1">143</tspan><tspan x="238.5" dy="13" class="s2">70532</tspan><tspan x="238.5" dy="13" class="s3">25.00%</tspan></text><text x="478.5" y="76.5"><tspan class="s1">99</tspan><tspan x="478.5" dy="13" class="s2">71126</tspan><tspan x="478.5" dy="13" class="s3">25.00%</tspan></text><text x="718.5" y="76.5"><tspan class="s1">58</tspan><tspan x="718.5" dy="13" class="s2">71474</tspan><tspan x="718.5" dy="13" class="s3">25.00%</tspan></text><text x="958.5" y="76.5"><tspan class="s1">152</tspan><tspan x="958.5" dy="13" class="s2">72386</tspan><tspan x="958.5" dy="13" class="s3">25.00%</tspan></text></g>
</g>

<g id="row23" transform="translate(31.3 3307.8)"><use href="#g4"/>
<g class="R"><rect x="30" y="11.75" width="45" height="6.5"/><rect x="120" y="11.75" width="45" height="6.5"/></g>
<g class="n R"><circle cx="0" cy="15" r="5"/><circle cx="30" cy="15" r="5"/><circle cx="90" cy="15" r="5"/><circle cx="120" cy="15" r="5"/><circle cx="180" cy="15" r="5"/></g>
<g class="mn"><text x="0.5" y="-7.5">89</text><text x="240.5" y="-7.5">90</text><text x="480.5" y="-7.5">91</text><text x="720.5" y="-7.5">92</text></g>
<g class="sc"><text x="238.5" y="76.5"><tspan class="s1">143</tspan><tspan x="238.5" dy="13" class="s2">73244</tspan><tspan x="238.5" dy="13" class="s3">25.00%</tspan></text><text x="478.5" y="76.5"><tspan class="s1">0</tspan><tspan x="478.5" dy="13" class="s2">73244</tspan><tspan x="478.5" dy="13" class="s3">25.00%</tspan></text><text x="718.5" y="76.5"><tspan class="s1">0</tspan><tspan x="718.5" dy="13" class="s2">73244</tspan><tspan x="718.5" dy="13" class="s3">25.00%</tspan></text><text x="958.5" y="76.5"><tspan class="s1">0</tspan><tspan x="958.5" dy="13" class="s2">73244</tspan><tspan x="958.5" dy="13" class="s3">25.00%</tspan></text></g>
</g>

<g id="row24" transform="translate(31.3 3448.8)"><use href="#g4"/>
<g class="mn"><text x="0.5" y="-7.5">93</text><text x="240.5" y="-7.5">94</text><text x="480.5" y="-7.5">95</text><text x="720.5" y="-7.5">96</text></g>
<g class="sc"><text x="238.5" y="76.5"><tspan class="s1">0</tspan><tspan x="238.5" dy="13" class="s2">73244</tspan><tspan x="238.5" dy="13" class="s3">25.00%</tspan></text><text x="478.5" y="76.5"><tspan class="s1">0</tspan><tspan x="478.5" dy="13" class="s2">73244</tspan><tspan x="478.5" dy="13" class="s3">25.00%</tspan></text><text x="718.5" y="76.5"><tspan class="s1">0</tspan><tspan x="718.5" dy="13" class="s2">73244</tspan><tspan x="718.5" dy="13" class="s3">25.00%</tspan></text><text x="958.5" y="76.5"><tspan class="s1">0</tspan><tspan x="958.5" dy="13" class="s2">73244</tspan><tspan x="958.5" dy="13" class="s3">25.00%</tspan></text></g>
</g>

<g id="row25" transform="translate(31.3 3589.8)"><use href="#g4"/>
<g class="mn"><text x="0.5" y="-7.5">97</text><text x="240.5" y="-7.5">98</text><text x="480.5" y="-7.5">99</text><text x="720.5" y="-7.5">100</text></g>
<g class="sc"><text x="238.5" y="76.5"><tspan class="s1">0</tspan><tspan x="238.5" dy="13" class="s2">73244</tspan><tspan x="238.5" dy="13" class="s3">25.00%</tspan></text><text x="478.5" y="76.5"><tspan class="s1">0</tspan><tspan x="478.5" dy="13" class="s2">73244</tspan><tspan x="478.5" dy="13" class="s3">25.00%</tspan></text><text x="718.5" y="76.5"><tspan class="s1">0</tspan><tspan x="718.5" dy="13" class="s2">73244</tspan><tspan x="718.5" dy="13" class="s3">25.00%</tspan></text><text x="958.5" y="76.5"><tspan class="s1">0</tspan><tspan x="958.5" dy="13" class="s2">73244</tspan><tspan x="958.5" dy="13" class="s3">25.00%</tspan></text></g>
</g>

<g id="row26" transform="translate(31.3 3730.8)"><rect class="yb" x="270" y="-10" width="193.5" height="80"/><use href="#g4"/>
<g class="G"><rect x="270" y="-3.25" width="45" height="6.5"/><rect x="360" y="-3.25" width="45" height="6.5"/><rect x="420" y="-3.25" width="43.5" height="6.5"/><rect x="510" y="-3.25" width="45" height="6.5"/><rect x="600" y="-3.25" width="45" height="6.5"/><rect x="660" y="-3.25" width="45" height="6.5"/><rect x="750" y="-3.25" width="45" height="6.5"/><rect x="840" y="-3.25" width="45" height="6.5"/><rect x="900" y="-3.25" width="45" height="6.5"/></g>
<g class="n G"><circle cx="240" cy="0" r="5"/><use href="#st" x="270" y="0"/><use href="#st" x="330" y="0"/><use href="#st" x="360" y="0"/><use href="#st" x="420" y="0"/><circle cx="480" cy="0" r="5"/><circle cx="510" cy="0" r="5"/><circle cx="570" cy="0" r="5"/><circle cx="600" cy="0" r="5"/><circle cx="660" cy="0" r="5"/><circle cx="720" cy="0" r="5"/><circle cx="750" cy="0" r="5"/><circle cx="810" cy="0" r="5"/><circle cx="840" cy="0" r="5"/><circle cx="900" cy="0" r="5"/></g>
<rect class="ob" x="240" y="0" width="720" height="60"/><rect class="og" x="270" y="0" width="193.5" height="60"/>
<g class="mn"><text x="0.5" y="-7.5">101</text><text x="240.5" y="-7.5">102</text><text x="480.5" y="-7.5">103</text><text x="720.5" y="-7.5">104</text></g>
<g class="sc"><text x="238.5" y="76.5"><tspan class="s1">0</tspan><tspan x="238.5" dy="13" class="s2">73244</tspan><tspan x="238.5" dy="13" class="s3">24.99%</tspan></text><text x="478.5" y="76.5"><tspan class="s1">152</tspan><tspan x="478.5" dy="13" class="s2">75068</tspan><tspan x="478.5" dy="13" class="s3">51.39%</tspan></text><text x="718.5" y="76.5"><tspan class="s1">152</tspan><tspan x="718.5" dy="13" class="s2">76892</tspan><tspan x="718.5" dy="13" class="s3">45.14%</tspan></text><text x="958.5" y="76.5"><tspan class="s1">152</tspan><tspan x="958.5" dy="13" class="s2">78716</tspan><tspan x="958.5" dy="13" class="s3">38.89%</tspan></text></g>
</g>

<g id="row27" transform="translate(31.3 3871.8)"><use href="#g4"/>
<g class="G"><rect x="30" y="-3.25" width="45" height="6.5"/><rect x="300" y="-3.25" width="45" height="6.5"/><rect x="360" y="-3.25" width="45" height="6.5"/><rect x="510" y="-3.25" width="45" height="6.5"/><rect x="600" y="-3.25" width="45" height="6.5"/><rect x="660" y="-3.25" width="45" height="6.5"/><rect x="750" y="-3.25" width="45" height="6.5"/><rect x="840" y="-3.25" width="45" height="6.5"/><rect x="900" y="-3.25" width="45" height="6.5"/></g>
<g class="n G"><circle cx="0" cy="0" r="5"/><circle cx="30" cy="0" r="5"/><circle cx="90" cy="0" r="5"/><circle cx="120" cy="0" r="5"/><circle cx="270" cy="0" r="5"/><circle cx="300" cy="0" r="5"/><circle cx="360" cy="0" r="5"/><circle cx="420" cy="0" r="5"/><circle cx="450" cy="0" r="5"/><circle cx="480" cy="0" r="5"/><circle cx="510" cy="0" r="5"/><circle cx="570" cy="0" r="5"/><circle cx="600" cy="0" r="5"/><circle cx="660" cy="0" r="5"/><circle cx="720" cy="0" r="5"/><circle cx="750" cy="0" r="5"/><circle cx="810" cy="0" r="5"/><circle cx="840" cy="0" r="5"/><circle cx="900" cy="0" r="5"/></g>
<g class="n R"><circle cx="150" cy="15" r="5"/><circle cx="180" cy="15" r="5"/><circle cx="210" cy="15" r="5"/></g>
<rect class="ob" x="0" y="0" width="960" height="60"/>
<g class="mn"><text x="0.5" y="-7.5">105</text><text x="240.5" y="-7.5">106</text><text x="480.5" y="-7.5">107</text><text x="720.5" y="-7.5">108</text></g>
<g class="sc"><text x="238.5" y="76.5"><tspan class="s1">184</tspan><tspan x="238.5" dy="13" class="s2">80924</tspan><tspan x="238.5" dy="13" class="s3">32.64%</tspan></text><text x="478.5" y="76.5"><tspan class="s1">143</tspan><tspan x="478.5" dy="13" class="s2">82640</tspan><tspan x="478.5" dy="13" class="s3">26.39%</tspan></text><text x="718.5" y="76.5"><tspan class="s1">152</tspan><tspan x="718.5" dy="13" class="s2">84464</tspan><tspan x="718.5" dy="13" class="s3">20.14%</tspan></text><text x="958.5" y="76.5"><tspan class="s1">152</tspan><tspan x="958.5" dy="13" class="s2">86438</tspan><tspan x="958.5" dy="13" class="s3">13.89%</tspan></text></g>
</g>

<g id="row28" transform="translate(31.3 4012.8)"><use href="#g4"/>
<g class="G"><rect x="30" y="-3.25" width="45" height="6.5"/><rect x="90" y="-3.25" width="75" height="6.5"/></g>
<g class="Y"><rect x="270" y="26.75" width="45" height="6.5"/><rect x="360" y="26.75" width="45" height="6.5"/><rect x="450" y="26.75" width="45" height="6.5"/><rect x="510" y="26.75" width="75" height="6.5"/><rect x="750" y="26.75" width="45" height="6.5"/><rect x="840" y="26.75" width="45" height="6.5"/></g>
<g class="n G"><circle cx="0" cy="0" r="5"/><circle cx="30" cy="0" r="5"/><circle cx="90" cy="0" r="5"/></g>
<g class="n R"><circle cx="180" cy="15" r="5"/></g>
<g class="n Y"><circle cx="240" cy="30" r="5"/><circle cx="270" cy="30" r="5"/><circle cx="330" cy="30" r="5"/><circle cx="360" cy="30" r="5"/><circle cx="420" cy="30" r="5"/><circle cx="450" cy="30" r="5"/><circle cx="510" cy="30" r="5"/><circle cx="600" cy="30" r="5"/><circle cx="630" cy="30" r="5"/><circle cx="660" cy="30" r="5"/><circle cx="690" cy="30" r="5"/><circle cx="720" cy="30" r="5"/><circle cx="750" cy="30" r="5"/><circle cx="810" cy="30" r="5"/><circle cx="840" cy="30" r="5"/><circle cx="900" cy="30" r="5"/><circle cx="930" cy="30" r="5"/></g>
<rect class="ob" x="0" y="0" width="960" height="60"/>
<g class="mn"><text x="0.5" y="-7.5">109</text><text x="240.5" y="-7.5">110</text><text x="480.5" y="-7.5">111</text><text x="720.5" y="-7.5">112</text></g>
<g class="sc"><text x="238.5" y="76.5"><tspan class="s1">124</tspan><tspan x="238.5" dy="13" class="s2">87776</tspan><tspan x="238.5" dy="13" class="s3">7.64%</tspan></text><text x="478.5" y="76.5"><tspan class="s1">174</tspan><tspan x="478.5" dy="13" class="s2">89864</tspan><tspan x="478.5" dy="13" class="s3">1.39%</tspan></text><text x="718.5" y="76.5"><tspan class="s1">143</tspan><tspan x="718.5" dy="13" class="s2">91580</tspan><tspan x="718.5" dy="13" class="s3">0.00%</tspan></text><text x="958.5" y="76.5"><tspan class="s1">168</tspan><tspan x="958.5" dy="13" class="s2">93596</tspan><tspan x="958.5" dy="13" class="s3">0.00%</tspan></text></g>
</g>

<g id="row29" transform="translate(31.3 4153.8)"><use href="#g4"/>
<g class="B"><rect x="120" y="41.75" width="105" height="6.5"/></g>
<g class="n Y"><circle cx="30" cy="30" r="5"/><circle cx="90" cy="30" r="5"/><circle cx="420" cy="30" r="5"/><circle cx="720" cy="30" r="5"/></g>
<g class="n B"><circle cx="120" cy="45" r="5"/><circle cx="450" cy="45" r="5"/></g>
<g class="n O"><circle cx="240" cy="60" r="5"/><circle cx="480" cy="60" r="5"/></g>
<g class="n G"><circle cx="270" cy="0" r="5"/><circle cx="330" cy="0" r="5"/><circle cx="360" cy="0" r="5"/><circle cx="510" cy="0" r="5"/><circle cx="570" cy="0" r="5"/><circle cx="600" cy="0" r="5"/><circle cx="660" cy="0" r="5"/><circle cx="750" cy="0" r="5"/><circle cx="810" cy="0" r="5"/><circle cx="840" cy="0" r="5"/><circle cx="900" cy="0" r="5"/></g>
<g class="n R"><circle cx="390" cy="15" r="5"/><circle cx="690" cy="15" r="5"/><circle cx="930" cy="15" r="5"/></g>
<rect class="ob" x="0" y="0" width="960" height="60"/>
<g class="mn"><text x="0.5" y="-7.5">113</text><text x="240.5" y="-7.5">114</text><text x="480.5" y="-7.5">115</text><text x="720.5" y="-7.5">116</text></g>
<g class="sc"><text x="238.5" y="76.5"><tspan class="s1">96</tspan><tspan x="238.5" dy="13" class="s2">94748</tspan><tspan x="238.5" dy="13" class="s3">0.00%</tspan></text><text x="478.5" y="76.5"><tspan class="s1">175</tspan><tspan x="478.5" dy="13" class="s2">96848</tspan><tspan x="478.5" dy="13" class="s3">0.00%</tspan></text><text x="718.5" y="76.5"><tspan class="s1">150</tspan><tspan x="718.5" dy="13" class="s2">98648</tspan><tspan x="718.5" dy="13" class="s3">0.00%</tspan></text><text x="958.5" y="76.5"><tspan class="s1">150</tspan><tspan x="958.5" dy="13" class="s2">100448</tspan><tspan x="958.5" dy="13" class="s3">0.00%</tspan></text></g>
</g>

<g id="row30" transform="translate(31.3 4294.8)"><use href="#g4"/>
<g class="G"><rect x="360" y="-3.25" width="285" height="6.5"/><rect x="900" y="-3.25" width="60" height="6.5"/></g>
<g class="Y"><rect x="660" y="26.75" width="225" height="6.5"/></g>
<g class="n R"><circle cx="0" cy="15" r="5"/><circle cx="30" cy="15" r="5"/><circle cx="60" cy="15" r="5"/><circle cx="90" cy="15" r="5"/></g>
<g class="n O"><circle cx="120" cy="60" r="5"/><circle cx="150" cy="60" r="5"/><circle cx="180" cy="60" r="5"/><circle cx="210" cy="60" r="5"/></g>
<g class="n Y"><circle cx="240" cy="30" r="5"/><circle cx="660" cy="30" r="5"/></g>
<g class="n B"><circle cx="255" cy="45" r="5"/><circle cx="300" cy="45" r="5"/></g>
<g class="n G"><circle cx="360" cy="0" r="5"/><circle cx="900" cy="0" r="5"/></g>
<rect class="ob" x="0" y="0" width="463.5" height="60"/>
<g class="mn"><text x="0.5" y="-7.5">117</text><text x="240.5" y="-7.5">118</text><text x="480.5" y="-7.5">119</text><text x="720.5" y="-7.5">120</text></g>
<g class="sc"><text x="238.5" y="76.5"><tspan class="s1">200</tspan><tspan x="238.5" dy="13" class="s2">102848</tspan><tspan x="238.5" dy="13" class="s3">0.00%</tspan></text><text x="478.5" y="76.5"><tspan class="s1">124</tspan><tspan x="478.5" dy="13" class="s2">104318</tspan><tspan x="478.5" dy="13" class="s3">0.00%</tspan></text><text x="718.5" y="76.5"><tspan class="s1">70</tspan><tspan x="718.5" dy="13" class="s2">104738</tspan><tspan x="718.5" dy="13" class="s3">0.00%</tspan></text><text x="958.5" y="76.5"><tspan class="s1">70</tspan><tspan x="958.5" dy="13" class="s2">105158</tspan><tspan x="958.5" dy="13" class="s3">0.00%</tspan></text></g>
</g>

<g id="row31" transform="translate(31.3 4435.8)"><use href="#g4"/>
<g class="G"><rect x="0" y="-3.25" width="225" height="6.5"/></g>
<g class="Y"><rect x="270" y="26.75" width="45" height="6.5"/><rect x="360" y="26.75" width="45" height="6.5"/><rect x="450" y="26.75" width="45" height="6.5"/><rect x="510" y="26.75" width="75" height="6.5"/><rect x="750" y="26.75" width="45" height="6.5"/><rect x="840" y="26.75" width="45" height="6.5"/></g>
<g class="n R"><circle cx="240" cy="15" r="5"/></g>
<g class="n Y"><circle cx="255" cy="30" r="5"/><circle cx="270" cy="30" r="5"/><circle cx="330" cy="30" r="5"/><circle cx="360" cy="30" r="5"/><circle cx="420" cy="30" r="5"/><circle cx="450" cy="30" r="5"/><circle cx="510" cy="30" r="5"/><circle cx="600" cy="30" r="5"/><circle cx="630" cy="30" r="5"/><circle cx="660" cy="30" r="5"/><circle cx="690" cy="30" r="5"/><circle cx="720" cy="30" r="5"/><circle cx="750" cy="30" r="5"/><circle cx="810" cy="30" r="5"/><circle cx="840" cy="30" r="5"/><circle cx="900" cy="30" r="5"/></g>
<g class="mn"><text x="0.5" y="-7.5">121</text><text x="240.5" y="-7.5">122</text><text x="480.5" y="-7.5">123</text><text x="720.5" y="-7.5">124</text></g>
<g class="sc"><text x="238.5" y="76.5"><tspan class="s1">45</tspan><tspan x="238.5" dy="13" class="s2">105428</tspan><tspan x="238.5" dy="13" class="s3">0.00%</tspan></text><text x="478.5" y="76.5"><tspan class="s1">199</tspan><tspan x="478.5" dy="13" class="s2">106622</tspan><tspan x="478.5" dy="13" class="s3">0.00%</tspan></text><text x="718.5" y="76.5"><tspan class="s1">143</tspan><tspan x="718.5" dy="13" class="s2">107480</tspan><tspan x="718.5" dy="13" class="s3">0.00%</tspan></text><text x="958.5" y="76.5"><tspan class="s1">143</tspan><tspan x="958.5" dy="13" class="s2">108338</tspan><tspan x="958.5" dy="13" class="s3">0.00%</tspan></text></g>
</g>

<g id="row32" transform="translate(31.3 4576.8)"><use href="#g4"/>
<g class="B"><rect x="360" y="41.75" width="225" height="6.5"/></g>
<g class="G"><rect x="360" y="-3.25" width="225" height="6.5"/><rect x="900" y="-3.25" width="60" height="6.5"/></g>
<g class="Y"><rect x="660" y="26.75" width="225" height="6.5"/></g>
<g class="n R"><circle cx="0" cy="15" r="5"/><circle cx="60" cy="15" r="5"/></g>
<g class="n O"><circle cx="120" cy="60" r="5"/><circle cx="180" cy="60" r="5"/></g>
<g class="n B"><circle cx="240" cy="45" r="5"/><circle cx="300" cy="45" r="5"/><circle cx="360" cy="45" r="5"/><circle cx="600" cy="45" r="5"/></g>
<g class="n G"><circle cx="360" cy="0" r="5"/><circle cx="900" cy="0" r="5"/></g>
<g class="n Y"><circle cx="660" cy="30" r="5"/></g>
<g class="mn"><text x="0.5" y="-7.5">125</text><text x="240.5" y="-7.5">126</text><text x="480.5" y="-7.5">127</text><text x="720.5" y="-7.5">128</text></g>
<g class="sc"><text x="238.5" y="76.5"><tspan class="s1">100</tspan><tspan x="238.5" dy="13" class="s2">108938</tspan><tspan x="238.5" dy="13" class="s3">0.00%</tspan></text><text x="478.5" y="76.5"><tspan class="s1">148</tspan><tspan x="478.5" dy="13" class="s2">109826</tspan><tspan x="478.5" dy="13" class="s3">0.00%</tspan></text><text x="718.5" y="76.5"><tspan class="s1">104</tspan><tspan x="718.5" dy="13" class="s2">110450</tspan><tspan x="718.5" dy="13" class="s3">0.00%</tspan></text><text x="958.5" y="76.5"><tspan class="s1">70</tspan><tspan x="958.5" dy="13" class="s2">110870</tspan><tspan x="958.5" dy="13" class="s3">0.00%</tspan></text></g>
</g>

<g id="row33" transform="translate(31.3 4717.8)"><rect class="yb" x="720" y="-10" width="240" height="80"/><use href="#g4"/>
<g class="G"><rect x="0" y="-3.25" width="105" height="6.5"/></g>
<g class="R"><rect x="180" y="11.75" width="525" height="6.5"/></g>
<g class="n Y"><circle cx="120" cy="30" r="5"/></g>
<g class="n R"><circle cx="180" cy="15" r="5"/></g>
<g class="n G"><use href="#st" x="720" y="0"/><use href="#st" x="750" y="0"/><use href="#st" x="780" y="0"/><use href="#st" x="810" y="0"/><use href="#st" x="840" y="0"/><use href="#st" x="870" y="0"/><use href="#st" x="900" y="0"/><use href="#st" x="930" y="0"/></g>
<rect class="og" x="720" y="0" width="240" height="60"/>
<g class="mn"><text x="0.5" y="-7.5">129</text><text x="240.5" y="-7.5">130</text><text x="480.5" y="-7.5">131</text><text x="720.5" y="-7.5">132</text></g>
<g class="sc"><text x="238.5" y="76.5"><tspan class="s1">83</tspan><tspan x="238.5" dy="13" class="s2">111368</tspan><tspan x="238.5" dy="13" class="s3">0.00%</tspan></text><text x="478.5" y="76.5"><tspan class="s1">48</tspan><tspan x="478.5" dy="13" class="s2">111656</tspan><tspan x="478.5" dy="13" class="s3">0.00%</tspan></text><text x="718.5" y="76.5"><tspan class="s1">45</tspan><tspan x="718.5" dy="13" class="s2">111926</tspan><tspan x="718.5" dy="13" class="s3">0.00%</tspan></text><text x="958.5" y="76.5"><tspan class="s1">200</tspan><tspan x="958.5" dy="13" class="s2">113126</tspan><tspan x="958.5" dy="13" class="s3">0.00%</tspan></text></g>
</g>

<g id="row34" transform="translate(31.3 4858.8)"><rect class="yb" x="0" y="-10" width="344" height="80"/><use href="#g4"/>
<g class="Y"><rect x="240" y="26.75" width="105" height="6.5"/><rect x="360" y="26.75" width="285" height="6.5"/></g>
<g class="R"><rect x="750" y="11.75" width="45" height="6.5"/><rect x="840" y="11.75" width="45" height="6.5"/><rect x="900" y="11.75" width="45" height="6.5"/></g>
<g class="n G"><use href="#st" x="0" y="0"/><use href="#st" x="30" y="0"/><use href="#st" x="60" y="0"/><use href="#st" x="90" y="0"/><use href="#st" x="120" y="0"/><use href="#st" x="150" y="0"/><use href="#st" x="180" y="0"/><use href="#st" x="210" y="0"/></g>
<g class="n Y"><use href="#st" x="240" y="30"/><circle cx="360" cy="30" r="5"/></g>
<g class="n R"><circle cx="660" cy="15" r="5"/><circle cx="720" cy="15" r="5"/><circle cx="750" cy="15" r="5"/><circle cx="810" cy="15" r="5"/><circle cx="840" cy="15" r="5"/><circle cx="900" cy="15" r="5"/></g>
<rect class="og" x="0" y="0" width="344" height="60"/>
<g class="mn"><text x="0.5" y="-7.5">133</text><text x="240.5" y="-7.5">134</text><text x="480.5" y="-7.5">135</text><text x="720.5" y="-7.5">136</text></g>
<g class="sc"><text x="238.5" y="76.5"><tspan class="s1">200</tspan><tspan x="238.5" dy="13" class="s2">114326</tspan><tspan x="238.5" dy="13" class="s3">0.00%</tspan></text><text x="478.5" y="76.5"><tspan class="s1">95</tspan><tspan x="478.5" dy="13" class="s2">114896</tspan><tspan x="478.5" dy="13" class="s3">30.95%</tspan></text><text x="718.5" y="76.5"><tspan class="s1">58</tspan><tspan x="718.5" dy="13" class="s2">115244</tspan><tspan x="718.5" dy="13" class="s3">30.95%</tspan></text><text x="958.5" y="76.5"><tspan class="s1">152</tspan><tspan x="958.5" dy="13" class="s2">116156</tspan><tspan x="958.5" dy="13" class="s3">30.95%</tspan></text></g>
</g>

<g id="row35" transform="translate(31.3 4999.8)"><use href="#g4"/>
<g class="R"><rect x="30" y="11.75" width="45" height="6.5"/><rect x="120" y="11.75" width="45" height="6.5"/><rect x="750" y="11.75" width="45" height="6.5"/><rect x="840" y="11.75" width="45" height="6.5"/><rect x="900" y="11.75" width="45" height="6.5"/></g>
<g class="O"><rect x="375" y="56.75" width="270" height="6.5"/></g>
<g class="n R"><circle cx="0" cy="15" r="5"/><circle cx="30" cy="15" r="5"/><circle cx="90" cy="15" r="5"/><circle cx="120" cy="15" r="5"/><circle cx="180" cy="15" r="5"/><circle cx="660" cy="15" r="5"/><circle cx="720" cy="15" r="5"/><circle cx="750" cy="15" r="5"/><circle cx="810" cy="15" r="5"/><circle cx="840" cy="15" r="5"/><circle cx="900" cy="15" r="5"/></g>
<g class="n Y"><circle cx="240" cy="30" r="5"/><circle cx="300" cy="30" r="5"/></g>
<g class="n B"><circle cx="360" cy="45" r="5"/></g>
<g class="n O"><circle cx="375" cy="60" r="5"/></g>
<rect class="or" x="839.5" y="0" width="11" height="60"/><rect class="ob" x="850.5" y="0" width="109.5" height="60"/>
<g class="mn"><text x="0.5" y="-7.5">137</text><text x="240.5" y="-7.5">138</text><text x="480.5" y="-7.5">139</text><text x="720.5" y="-7.5">140</text></g>
<g class="sc"><text x="238.5" y="76.5"><tspan class="s1">143</tspan><tspan x="238.5" dy="13" class="s2">117014</tspan><tspan x="238.5" dy="13" class="s3">30.95%</tspan></text><text x="478.5" y="76.5"><tspan class="s1">121</tspan><tspan x="478.5" dy="13" class="s2">117740</tspan><tspan x="478.5" dy="13" class="s3">30.95%</tspan></text><text x="718.5" y="76.5"><tspan class="s1">58</tspan><tspan x="718.5" dy="13" class="s2">118088</tspan><tspan x="718.5" dy="13" class="s3">30.95%</tspan></text><text x="958.5" y="76.5"><tspan class="s1">152</tspan><tspan x="958.5" dy="13" class="s2">119408</tspan><tspan x="958.5" dy="13" class="s3">28.12%</tspan></text></g>
</g>

<g id="row36" transform="translate(31.3 5140.8)"><use href="#g4"/>
<g class="R"><rect x="30" y="11.75" width="45" height="6.5"/><rect x="120" y="11.75" width="45" height="6.5"/><rect x="750" y="11.75" width="45" height="6.5"/><rect x="840" y="11.75" width="45" height="6.5"/><rect x="900" y="11.75" width="45" height="6.5"/></g>
<g class="Y"><rect x="360" y="26.75" width="285" height="6.5"/></g>
<g class="n R"><circle cx="0" cy="15" r="5"/><circle cx="30" cy="15" r="5"/><circle cx="90" cy="15" r="5"/><circle cx="120" cy="15" r="5"/><circle cx="180" cy="15" r="5"/><circle cx="660" cy="15" r="5"/><circle cx="720" cy="15" r="5"/><circle cx="750" cy="15" r="5"/><circle cx="810" cy="15" r="5"/><circle cx="840" cy="15" r="5"/><circle cx="900" cy="15" r="5"/></g>
<g class="n Y"><circle cx="240" cy="30" r="5"/><circle cx="300" cy="30" r="5"/><circle cx="360" cy="30" r="5"/></g>
<rect class="ob" x="0" y="0" width="960" height="60"/>
<g class="mn"><text x="0.5" y="-7.5">141</text><text x="240.5" y="-7.5">142</text><text x="480.5" y="-7.5">143</text><text x="720.5" y="-7.5">144</text></g>
<g class="sc"><text x="238.5" y="76.5"><tspan class="s1">143</tspan><tspan x="238.5" dy="13" class="s2">121124</tspan><tspan x="238.5" dy="13" class="s3">21.87%</tspan></text><text x="478.5" y="76.5"><tspan class="s1">99</tspan><tspan x="478.5" dy="13" class="s2">122312</tspan><tspan x="478.5" dy="13" class="s3">15.62%</tspan></text><text x="718.5" y="76.5"><tspan class="s1">58</tspan><tspan x="718.5" dy="13" class="s2">123008</tspan><tspan x="718.5" dy="13" class="s3">9.37%</tspan></text><text x="958.5" y="76.5"><tspan class="s1">152</tspan><tspan x="958.5" dy="13" class="s2">124832</tspan><tspan x="958.5" dy="13" class="s3">3.12%</tspan></text></g>
</g>

<g id="row37" transform="translate(31.3 5281.8)"><use href="#g4"/>
<g class="R"><rect x="30" y="11.75" width="45" height="6.5"/><rect x="120" y="11.75" width="45" height="6.5"/><rect x="750" y="11.75" width="45" height="6.5"/><rect x="840" y="11.75" width="45" height="6.5"/></g>
<g class="O"><rect x="375" y="56.75" width="270" height="6.5"/></g>
<g class="B"><rect x="915" y="41.75" width="45" height="6.5"/></g>
<g class="n R"><circle cx="0" cy="15" r="5"/><circle cx="30" cy="15" r="5"/><circle cx="90" cy="15" r="5"/><circle cx="120" cy="15" r="5"/><circle cx="180" cy="15" r="5"/><use href="#st" x="660" y="15"/><use href="#st" x="720" y="15"/><use href="#st" x="750" y="15"/><use href="#st" x="810" y="15"/><use href="#st" x="840" y="15"/></g>
<g class="n Y"><circle cx="240" cy="30" r="5"/><circle cx="300" cy="30" r="5"/><use href="#st" x="900" y="30"/></g>
<g class="n B"><circle cx="360" cy="45" r="5"/><use href="#st" x="915" y="45"/></g>
<g class="n O"><circle cx="375" cy="60" r="5"/></g>
<rect class="og" x="660" y="0" width="300" height="60"/><rect class="ob" x="0" y="0" width="960" height="60"/>
<g class="mn"><text x="0.5" y="-7.5">145</text><text x="240.5" y="-7.5">146</text><text x="480.5" y="-7.5">147</text><text x="720.5" y="-7.5">148</text></g>
<g class="sc"><text x="238.5" y="76.5"><tspan class="s1">143</tspan><tspan x="238.5" dy="13" class="s2">126548</tspan><tspan x="238.5" dy="13" class="s3">0.00%</tspan></text><text x="478.5" y="76.5"><tspan class="s1">121</tspan><tspan x="478.5" dy="13" class="s2">128000</tspan><tspan x="478.5" dy="13" class="s3">0.00%</tspan></text><text x="718.5" y="76.5"><tspan class="s1">58</tspan><tspan x="718.5" dy="13" class="s2">128696</tspan><tspan x="718.5" dy="13" class="s3">0.00%</tspan></text><text x="958.5" y="76.5"><tspan class="s1">177</tspan><tspan x="958.5" dy="13" class="s2">130820</tspan><tspan x="958.5" dy="13" class="s3">26.38%</tspan></text></g>
</g>

<g id="row38" transform="translate(31.3 5422.8)"><use href="#g4"/>
<g class="B"><rect x="0" y="41.75" width="225" height="6.5"/></g>
<g class="Y"><rect x="360" y="26.75" width="285" height="6.5"/></g>
<g class="R"><rect x="750" y="11.75" width="45" height="6.5"/><rect x="840" y="11.75" width="45" height="6.5"/><rect x="900" y="11.75" width="45" height="6.5"/></g>
<g class="n Y"><circle cx="240" cy="30" r="5"/><circle cx="300" cy="30" r="5"/><circle cx="360" cy="30" r="5"/></g>
<g class="n R"><circle cx="660" cy="15" r="5"/><circle cx="720" cy="15" r="5"/><circle cx="750" cy="15" r="5"/><circle cx="810" cy="15" r="5"/><circle cx="840" cy="15" r="5"/><circle cx="900" cy="15" r="5"/></g>
<rect class="og" x="0" y="0" width="225" height="60"/><rect class="ob" x="0" y="0" width="960" height="60"/>
<g class="mn"><text x="0.5" y="-7.5">149</text><text x="240.5" y="-7.5">150</text><text x="480.5" y="-7.5">151</text><text x="720.5" y="-7.5">152</text></g>
<g class="sc"><text x="238.5" y="76.5"><tspan class="s1">45</tspan><tspan x="238.5" dy="13" class="s2">131360</tspan><tspan x="238.5" dy="13" class="s3">32.88%</tspan></text><text x="478.5" y="76.5"><tspan class="s1">99</tspan><tspan x="478.5" dy="13" class="s2">132548</tspan><tspan x="478.5" dy="13" class="s3">26.63%</tspan></text><text x="718.5" y="76.5"><tspan class="s1">58</tspan><tspan x="718.5" dy="13" class="s2">133244</tspan><tspan x="718.5" dy="13" class="s3">20.38%</tspan></text><text x="958.5" y="76.5"><tspan class="s1">152</tspan><tspan x="958.5" dy="13" class="s2">135068</tspan><tspan x="958.5" dy="13" class="s3">14.13%</tspan></text></g>
</g>

<g id="row39" transform="translate(31.3 5563.8)"><use href="#g4"/>
<g class="R"><rect x="30" y="11.75" width="45" height="6.5"/><rect x="120" y="11.75" width="45" height="6.5"/><rect x="750" y="11.75" width="45" height="6.5"/><rect x="840" y="11.75" width="45" height="6.5"/></g>
<g class="O"><rect x="375" y="56.75" width="270" height="6.5"/></g>
<g class="B"><rect x="915" y="41.75" width="45" height="6.5"/></g>
<g class="n R"><circle cx="0" cy="15" r="5"/><circle cx="30" cy="15" r="5"/><circle cx="90" cy="15" r="5"/><circle cx="120" cy="15" r="5"/><circle cx="180" cy="15" r="5"/><circle cx="660" cy="15" r="5"/><circle cx="720" cy="15" r="5"/><circle cx="750" cy="15" r="5"/><circle cx="810" cy="15" r="5"/><circle cx="840" cy="15" r="5"/></g>
<g class="n Y"><circle cx="240" cy="30" r="5"/><circle cx="300" cy="30" r="5"/><circle cx="900" cy="30" r="5"/></g>
<g class="n B"><circle cx="360" cy="45" r="5"/><circle cx="915" cy="45" r="5"/></g>
<g class="n O"><circle cx="375" cy="60" r="5"/></g>
<rect class="ob" x="0" y="0" width="900" height="60"/><rect class="or" x="900" y="0" width="15" height="60"/>
<g class="mn"><text x="0.5" y="-7.5">153</text><text x="240.5" y="-7.5">154</text><text x="480.5" y="-7.5">155</text><text x="720.5" y="-7.5">156</text></g>
<g class="sc"><text x="238.5" y="76.5"><tspan class="s1">143</tspan><tspan x="238.5" dy="13" class="s2">136784</tspan><tspan x="238.5" dy="13" class="s3">7.88%</tspan></text><text x="478.5" y="76.5"><tspan class="s1">121</tspan><tspan x="478.5" dy="13" class="s2">138236</tspan><tspan x="478.5" dy="13" class="s3">1.63%</tspan></text><text x="718.5" y="76.5"><tspan class="s1">58</tspan><tspan x="718.5" dy="13" class="s2">138932</tspan><tspan x="718.5" dy="13" class="s3">0.00%</tspan></text><text x="958.5" y="76.5"><tspan class="s1">177</tspan><tspan x="958.5" dy="13" class="s2">141002</tspan><tspan x="958.5" dy="13" class="s3">0.00%</tspan></text></g>
</g>

<g id="row40" transform="translate(31.3 5704.8)"><use href="#g4"/>
<g class="B"><rect x="0" y="41.75" width="225" height="6.5"/></g>
<g class="O"><rect x="375" y="56.75" width="135" height="6.5"/></g>
<g class="R"><rect x="660" y="11.75" width="165" height="6.5"/><rect x="900" y="11.75" width="60" height="6.5"/></g>
<g class="n Y"><circle cx="240" cy="30" r="5"/><circle cx="300" cy="30" r="5"/><circle cx="540" cy="30" r="5"/><circle cx="600" cy="30" r="5"/></g>
<g class="n B"><circle cx="360" cy="45" r="5"/></g>
<g class="n O"><circle cx="375" cy="60" r="5"/></g>
<g class="n R"><circle cx="660" cy="15" r="5"/><circle cx="840" cy="15" r="5"/><circle cx="900" cy="15" r="5"/></g>
<g class="mn"><text x="0.5" y="-7.5">157</text><text x="240.5" y="-7.5">158</text><text x="480.5" y="-7.5">159</text><text x="720.5" y="-7.5">160</text></g>
<g class="sc"><text x="238.5" y="76.5"><tspan class="s1">45</tspan><tspan x="238.5" dy="13" class="s2">141272</tspan><tspan x="238.5" dy="13" class="s3">0.00%</tspan></text><text x="478.5" y="76.5"><tspan class="s1">121</tspan><tspan x="478.5" dy="13" class="s2">141998</tspan><tspan x="478.5" dy="13" class="s3">0.00%</tspan></text><text x="718.5" y="76.5"><tspan class="s1">93</tspan><tspan x="718.5" dy="13" class="s2">142556</tspan><tspan x="718.5" dy="13" class="s3">0.00%</tspan></text><text x="958.5" y="76.5"><tspan class="s1">83</tspan><tspan x="958.5" dy="13" class="s2">143054</tspan><tspan x="958.5" dy="13" class="s3">0.00%</tspan></text></g>
</g>

<g id="row41" transform="translate(31.3 5845.8)"><use href="#g4"/>
<g class="R"><rect x="0" y="11.75" width="45" height="6.5"/><rect x="60" y="11.75" width="105" height="6.5"/><rect x="660" y="11.75" width="165" height="6.5"/><rect x="900" y="11.75" width="60" height="6.5"/></g>
<g class="O"><rect x="375" y="56.75" width="135" height="6.5"/></g>
<g class="n R"><circle cx="60" cy="15" r="5"/><circle cx="180" cy="15" r="5"/><circle cx="660" cy="15" r="5"/><circle cx="840" cy="15" r="5"/><circle cx="900" cy="15" r="5"/></g>
<g class="n Y"><circle cx="240" cy="30" r="5"/><circle cx="300" cy="30" r="5"/><circle cx="540" cy="30" r="5"/><circle cx="600" cy="30" r="5"/></g>
<g class="n B"><circle cx="360" cy="45" r="5"/></g>
<g class="n O"><circle cx="375" cy="60" r="5"/></g>
<g class="mn"><text x="0.5" y="-7.5">161</text><text x="240.5" y="-7.5">162</text><text x="480.5" y="-7.5">163</text><text x="720.5" y="-7.5">164</text></g>
<g class="sc"><text x="238.5" y="76.5"><tspan class="s1">80</tspan><tspan x="238.5" dy="13" class="s2">143534</tspan><tspan x="238.5" dy="13" class="s3">0.00%</tspan></text><text x="478.5" y="76.5"><tspan class="s1">121</tspan><tspan x="478.5" dy="13" class="s2">144260</tspan><tspan x="478.5" dy="13" class="s3">0.00%</tspan></text><text x="718.5" y="76.5"><tspan class="s1">93</tspan><tspan x="718.5" dy="13" class="s2">144818</tspan><tspan x="718.5" dy="13" class="s3">0.00%</tspan></text><text x="958.5" y="76.5"><tspan class="s1">83</tspan><tspan x="958.5" dy="13" class="s2">145316</tspan><tspan x="958.5" dy="13" class="s3">0.00%</tspan></text></g>
</g>

<g id="row42" transform="translate(31.3 5986.8)"><use href="#g3"/>
<g class="R"><rect x="0" y="11.75" width="45" height="6.5"/></g>
<g class="O"><rect x="375" y="56.75" width="135" height="6.5"/></g>
<g class="n R"><circle cx="60" cy="15" r="5"/><circle cx="120" cy="15" r="5"/><circle cx="180" cy="15" r="5"/></g>
<g class="n Y"><circle cx="240" cy="30" r="5"/><circle cx="300" cy="30" r="5"/></g>
<g class="n B"><circle cx="360" cy="45" r="5"/></g>
<g class="n O"><circle cx="375" cy="60" r="5"/></g>
<g class="mn"><text x="0.5" y="-7.5">165</text><text x="240.5" y="-7.5">166</text><text x="480.5" y="-7.5">167</text></g>
<g class="sc"><text x="238.5" y="76.5"><tspan class="s1">84</tspan><tspan x="238.5" dy="13" class="s2">145820</tspan><tspan x="238.5" dy="13" class="s3">0.00%</tspan></text><text x="478.5" y="76.5"><tspan class="s1">121</tspan><tspan x="478.5" dy="13" class="s2">146546</tspan><tspan x="478.5" dy="13" class="s3">0.00%</tspan></text><text x="718.5" y="76.5"><tspan class="s1">6</tspan><tspan x="718.5" dy="13" class="s2">146582</tspan><tspan x="718.5" dy="13" class="s3">0.00%</tspan></text></g>
</g>
</g>
</svg>
